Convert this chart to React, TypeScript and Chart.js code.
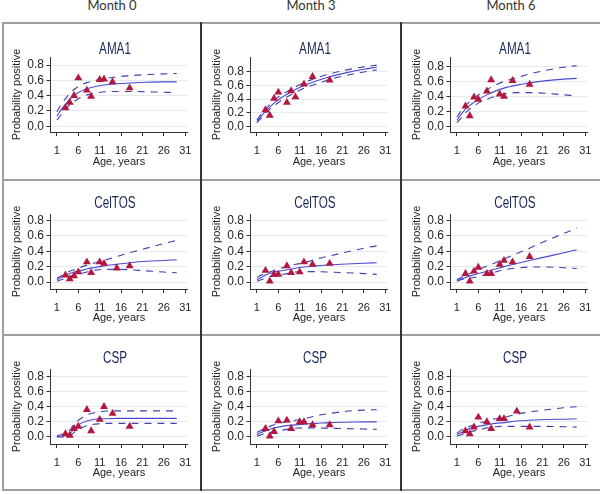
import React, { useEffect, useRef } from 'react';
import { Chart, registerables } from 'chart.js';
Chart.register(...registerables);

// ---------- data ----------
const months = ['Month 0', 'Month 3', 'Month 6'];
const antigens = ['AMA1', 'CelTOS', 'CSP'];
const xTickValues = [1, 6, 11, 16, 21, 26, 31];
const yTickValues = [0, 0.2, 0.4, 0.6, 0.8];
const curveAges = [1, 2, 3, 4, 5, 6, 8, 10, 12, 15, 18, 22, 26, 29];

const obsAgesA = [3, 4, 5, 6, 8, 9, 11, 12, 14, 18];
const obsAgesB = [3, 4, 5, 6, 8, 9, 10, 12, 14, 18];
const obsAgesC = [3, 4, 5, 6, 8, 9, 11, 12, 15, 18];

// AMA1
const ama1M0Obs = [0.24, 0.31, 0.40, 0.63, 0.47, 0.39, 0.61, 0.615, 0.58, 0.50];
const ama1M0Fit = [0.13, 0.22, 0.29, 0.35, 0.40, 0.44, 0.49, 0.52, 0.54, 0.555, 0.565, 0.575, 0.58, 0.58];
const ama1M0Hi = [0.19, 0.29, 0.36, 0.43, 0.48, 0.52, 0.57, 0.60, 0.62, 0.645, 0.66, 0.675, 0.685, 0.69];
const ama1M0Lo = [0.08, 0.15, 0.22, 0.28, 0.32, 0.36, 0.41, 0.43, 0.45, 0.455, 0.455, 0.45, 0.445, 0.44];

const ama1M3Obs = [0.24, 0.16, 0.41, 0.50, 0.35, 0.52, 0.43, 0.62, 0.73, 0.68];
const ama1M3Fit = [0.07, 0.15, 0.22, 0.28, 0.34, 0.39, 0.47, 0.54, 0.60, 0.67, 0.73, 0.79, 0.84, 0.87];
const ama1M3Hi = [0.09, 0.18, 0.25, 0.32, 0.38, 0.43, 0.51, 0.58, 0.64, 0.715, 0.77, 0.83, 0.875, 0.90];
const ama1M3Lo = [0.05, 0.12, 0.19, 0.25, 0.30, 0.35, 0.43, 0.50, 0.56, 0.625, 0.69, 0.75, 0.80, 0.83];

const ama1M6Obs = [0.27, 0.14, 0.39, 0.36, 0.47, 0.62, 0.43, 0.40, 0.61, 0.56];
const ama1M6Fit = [0.08, 0.16, 0.23, 0.28, 0.32, 0.36, 0.42, 0.47, 0.51, 0.55, 0.58, 0.61, 0.63, 0.64];
const ama1M6Hi = [0.12, 0.21, 0.28, 0.33, 0.38, 0.42, 0.49, 0.55, 0.60, 0.65, 0.70, 0.75, 0.79, 0.81];
const ama1M6Lo = [0.05, 0.11, 0.18, 0.23, 0.27, 0.31, 0.36, 0.40, 0.43, 0.45, 0.45, 0.44, 0.42, 0.41];

// CelTOS
const celM0Obs = [0.09, 0.04, 0.08, 0.13, 0.26, 0.12, 0.26, 0.24, 0.18, 0.21];
const celM0Fit = [0.03, 0.06, 0.09, 0.11, 0.13, 0.14, 0.17, 0.19, 0.21, 0.23, 0.25, 0.27, 0.28, 0.29];
const celM0Hi = [0.05, 0.08, 0.11, 0.14, 0.16, 0.18, 0.22, 0.25, 0.28, 0.33, 0.38, 0.44, 0.50, 0.54];
const celM0Lo = [0.01, 0.03, 0.05, 0.07, 0.09, 0.10, 0.13, 0.155, 0.165, 0.165, 0.16, 0.145, 0.13, 0.12];

const celM3Obs = [0.15, 0.01, 0.10, 0.10, 0.21, 0.12, 0.13, 0.26, 0.23, 0.24];
const celM3Fit = [0.03, 0.06, 0.09, 0.11, 0.13, 0.14, 0.16, 0.18, 0.195, 0.21, 0.225, 0.235, 0.245, 0.25];
const celM3Hi = [0.06, 0.09, 0.11, 0.13, 0.15, 0.17, 0.20, 0.23, 0.25, 0.30, 0.34, 0.39, 0.44, 0.47];
const celM3Lo = [0.01, 0.03, 0.05, 0.07, 0.08, 0.09, 0.11, 0.13, 0.135, 0.135, 0.13, 0.12, 0.11, 0.10];

const celM6Obs = [0.11, 0.01, 0.14, 0.19, 0.11, 0.11, 0.23, 0.28, 0.26, 0.33];
const celM6Fit = [0.02, 0.04, 0.06, 0.08, 0.095, 0.11, 0.14, 0.17, 0.20, 0.24, 0.28, 0.33, 0.38, 0.42];
const celM6Hi = [0.03, 0.06, 0.09, 0.11, 0.14, 0.16, 0.21, 0.25, 0.30, 0.37, 0.44, 0.54, 0.63, 0.70];
const celM6Lo = [0.01, 0.03, 0.04, 0.05, 0.06, 0.07, 0.10, 0.13, 0.16, 0.18, 0.195, 0.195, 0.185, 0.175];

// CSP
const cspM0Obs = [0.04, 0.02, 0.11, 0.14, 0.36, 0.08, 0.23, 0.40, 0.31, 0.14];
const cspM0Fit = [0.005, 0.01, 0.02, 0.04, 0.11, 0.16, 0.21, 0.235, 0.24, 0.245, 0.245, 0.245, 0.245, 0.245];
const cspM0Hi = [0.02, 0.03, 0.05, 0.09, 0.17, 0.22, 0.29, 0.325, 0.34, 0.345, 0.345, 0.345, 0.345, 0.345];
const cspM0Lo = [0.0, 0.0, 0.0, 0.01, 0.06, 0.10, 0.15, 0.17, 0.18, 0.18, 0.18, 0.18, 0.18, 0.18];

const cspM3Obs = [0.11, 0.01, 0.07, 0.21, 0.22, 0.11, 0.20, 0.20, 0.16, 0.16];
const cspM3Fit = [0.03, 0.06, 0.08, 0.10, 0.12, 0.13, 0.15, 0.16, 0.17, 0.18, 0.19, 0.195, 0.20, 0.20];
const cspM3Hi = [0.06, 0.09, 0.12, 0.14, 0.16, 0.18, 0.20, 0.22, 0.24, 0.28, 0.31, 0.34, 0.355, 0.36];
const cspM3Lo = [0.01, 0.03, 0.05, 0.06, 0.07, 0.08, 0.10, 0.115, 0.12, 0.12, 0.115, 0.11, 0.105, 0.10];

const cspM6Obs = [0.08, 0.04, 0.13, 0.26, 0.20, 0.11, 0.24, 0.24, 0.34, 0.13];
const cspM6Fit = [0.03, 0.06, 0.09, 0.11, 0.13, 0.14, 0.16, 0.18, 0.19, 0.21, 0.22, 0.23, 0.235, 0.24];
const cspM6Hi = [0.05, 0.09, 0.12, 0.14, 0.16, 0.18, 0.21, 0.24, 0.26, 0.30, 0.33, 0.36, 0.385, 0.40];
const cspM6Lo = [0.01, 0.03, 0.05, 0.07, 0.08, 0.09, 0.12, 0.135, 0.14, 0.14, 0.14, 0.14, 0.135, 0.13];

type PanelDef = {
  row: number; col: number; ages: number[]; obs: number[];
  fit: number[]; hi: number[]; lo: number[]; yMin: number; yMax: number;
};

const panels: PanelDef[] = [
  { row: 0, col: 0, ages: obsAgesA, obs: ama1M0Obs, fit: ama1M0Fit, hi: ama1M0Hi, lo: ama1M0Lo, yMin: -0.075, yMax: 0.905 },
  { row: 0, col: 1, ages: obsAgesB, obs: ama1M3Obs, fit: ama1M3Fit, hi: ama1M3Hi, lo: ama1M3Lo, yMin: -0.085, yMax: 1.02 },
  { row: 0, col: 2, ages: obsAgesA, obs: ama1M6Obs, fit: ama1M6Fit, hi: ama1M6Hi, lo: ama1M6Lo, yMin: -0.076, yMax: 0.926 },
  { row: 1, col: 0, ages: obsAgesC, obs: celM0Obs, fit: celM0Fit, hi: celM0Hi, lo: celM0Lo, yMin: -0.09, yMax: 0.883 },
  { row: 1, col: 1, ages: obsAgesA, obs: celM3Obs, fit: celM3Fit, hi: celM3Hi, lo: celM3Lo, yMin: -0.09, yMax: 0.883 },
  { row: 1, col: 2, ages: obsAgesA, obs: celM6Obs, fit: celM6Fit, hi: celM6Hi, lo: celM6Lo, yMin: -0.09, yMax: 0.883 },
  { row: 2, col: 0, ages: obsAgesA, obs: cspM0Obs, fit: cspM0Fit, hi: cspM0Hi, lo: cspM0Lo, yMin: -0.093, yMax: 0.898 },
  { row: 2, col: 1, ages: obsAgesA, obs: cspM3Obs, fit: cspM3Fit, hi: cspM3Hi, lo: cspM3Lo, yMin: -0.093, yMax: 0.898 },
  { row: 2, col: 2, ages: obsAgesC, obs: cspM6Obs, fit: cspM6Fit, hi: cspM6Hi, lo: cspM6Lo, yMin: -0.093, yMax: 0.898 },
];

// ---------- layout ----------
const rowTop = [23, 180, 335];
const rowH = [157, 155, 155];
const colLeft = [0, 200, 400];
const headerCenters = [112, 311, 511];
const titleCentersY = [48, 202.5, 357];
const titleOffsetX = 115;

const AXIS_FONT = "'Liberation Sans', Arial, Helvetica, sans-serif";
const RED = '#b3173f';
const FIT_COLOR = '#4a4ad0';
const CI_COLOR = '#3e3eae';

function Panel({ p }: { p: PanelDef }) {
  const ref = useRef<HTMLCanvasElement | null>(null);
  const H = rowH[p.row];
  useEffect(() => {
    if (!ref.current) return;
    const curve = (vals: number[]) => curveAges.map((a, i) => ({ x: a, y: vals[i] }));
    const ciStyle = {
      borderColor: CI_COLOR,
      borderWidth: 1.1,
      borderDash: [7, 6],
      pointRadius: 0,
      cubicInterpolationMode: 'monotone',
      fill: false,
    };
    const chart = new Chart(ref.current, {
      type: 'line',
      data: {
        datasets: [
          {
            data: p.ages.map((a, i) => ({ x: a, y: p.obs[i] })),
            showLine: false,
            pointStyle: 'triangle',
            pointRadius: 4.6,
            pointBackgroundColor: RED,
            pointBorderColor: RED,
            pointBorderWidth: 0,
          },
          {
            data: curve(p.fit),
            borderColor: FIT_COLOR,
            borderWidth: 1.1,
            pointRadius: 0,
            cubicInterpolationMode: 'monotone',
            fill: false,
          },
          { data: curve(p.hi), ...ciStyle },
          { data: curve(p.lo), ...ciStyle },
        ],
      } as any,
      options: {
        responsive: false,
        animation: false,
        events: [],
        layout: { padding: { left: 0, right: 8.5, top: 34, bottom: 0 } },
        plugins: {
          legend: { display: false },
          tooltip: { enabled: false },
          title: { display: false },
        },
        scales: {
          x: {
            type: 'linear',
            min: -0.5,
            max: 31.5,
            afterBuildTicks: (s: any) => { s.ticks = xTickValues.map((v) => ({ value: v })); },
            afterFit: (s: any) => { s.height = H - 109; },
            ticks: {
              color: '#222',
              font: { family: AXIS_FONT, size: 11 },
              padding: 8.5,
              maxRotation: 0,
              autoSkip: false,
              callback: (v: any) => String(v),
            },
            grid: { display: true, drawOnChartArea: false, drawTicks: true, tickLength: 4, tickColor: '#333' },
            border: { display: true, color: '#333', width: 1 },
            title: {
              display: true,
              text: 'Age, years',
              color: '#222',
              font: { family: AXIS_FONT, size: 11 },
              padding: { top: 0, bottom: p.row === 0 ? 11 : 10 },
            },
          },
          y: {
            type: 'linear',
            min: p.yMin,
            max: p.yMax,
            afterBuildTicks: (s: any) => { s.ticks = yTickValues.map((v) => ({ value: v })); },
            afterFit: (s: any) => { s.width = 50.5; },
            ticks: {
              color: '#222',
              font: { family: AXIS_FONT, size: 12 },
              padding: 2.5,
              callback: (v: any) => Number(v).toFixed(1),
            },
            grid: { display: true, color: '#e6e9ee', lineWidth: 1, drawTicks: true, tickLength: 4, tickColor: '#333' },
            border: { display: true, color: '#333', width: 1 },
            title: {
              display: true,
              text: 'Probability positive',
              color: '#222',
              font: { family: AXIS_FONT, size: 11 },
              padding: { top: 10.4, bottom: 0 },
            },
          },
        },
      } as any,
    });
    return () => chart.destroy();
  }, []);
  return (
    <canvas
      ref={ref}
      width={200}
      height={H}
      style={{ position: 'absolute', left: colLeft[p.col], top: rowTop[p.row], width: 200, height: H }}
    />
  );
}

export default function App() {
  const line = (l: number, t: number, w: number, h: number, c: string, k: string) => (
    <div key={k} style={{ position: 'absolute', left: l, top: t, width: w, height: h, background: c }} />
  );
  return (
    <div style={{ position: 'absolute', left: 0, top: 0, width: 600, height: 494, background: '#fff', overflow: 'hidden' }}>
      {months.map((m, i) => (
        <div
          key={m}
          style={{
            position: 'absolute', left: headerCenters[i] - 60, top: -2, width: 120, textAlign: 'center',
            fontFamily: "Lato, 'Open Sans', sans-serif", fontSize: 13, lineHeight: '14px', color: '#333',
          }}
        >
          {m}
        </div>
      ))}
      {panels.map((p, i) => <Panel key={i} p={p} />)}
      {panels.map((p, i) => (
        <div
          key={'t' + i}
          style={{
            position: 'absolute',
            left: colLeft[p.col] + titleOffsetX - 60,
            top: titleCentersY[p.row] - 9.5,
            width: 120,
            textAlign: 'center',
            fontFamily: AXIS_FONT,
            fontSize: 16,
            lineHeight: '19px',
            color: '#1a2858',
            transform: 'scaleX(0.73)',
            whiteSpace: 'nowrap',
          }}
        >
          {antigens[p.row]}
        </div>
      ))}
      {line(3, 22, 597, 2, '#a0a0a0', 'top')}
      {line(3, 179, 597, 2, '#a0a0a0', 'h1')}
      {line(3, 334, 597, 2, '#a0a0a0', 'h2')}
      {line(3, 489, 597, 2, '#a0a0a0', 'bot')}
      {line(2, 22, 2, 469, '#a0a0a0', 'left')}
      {line(200, 22, 2, 469, '#333', 'v1')}
      {line(400, 22, 2, 469, '#333', 'v2')}
    </div>
  );
}
